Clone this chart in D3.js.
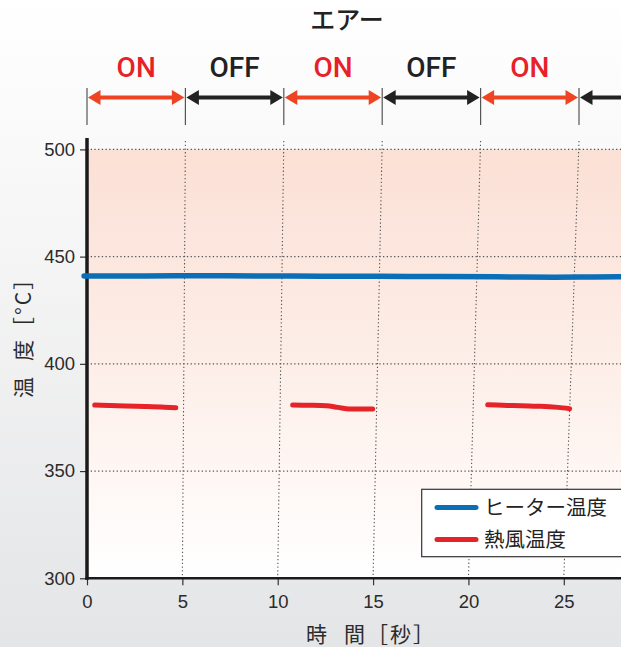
<!DOCTYPE html>
<html>
<head>
<meta charset="utf-8">
<script src="https://cdn.jsdelivr.net/npm/d3@7"></script>
<style>
  html, body { margin: 0; padding: 0; }
  body { width: 621px; height: 647px; overflow: hidden; }
</style>
</head>
<body>
<div id="chart"></div>
<script>
// data
var xTicks = [0, 5, 10, 15, 20, 25];
var yTicks = [300, 350, 400, 450, 500];

var airBounds = [0, 5, 10, 15, 20, 25, 30];
var airStates = ["ON", "OFF", "ON", "OFF", "ON", "OFF"];

var heaterTime = [0, 3, 6, 9, 12, 15, 18, 21, 24, 26, 28];
var heaterTemp = [441, 441, 441.1, 441, 440.9, 440.8, 440.7, 440.6, 440.4, 440.5, 440.7];

var airTime1 = [0.4, 1.2, 2, 3, 4, 4.6];
var airTemp1 = [380.8, 380.6, 380.3, 380.1, 379.8, 379.5];
var airTime2 = [10.65, 11.5, 12.4, 13.0, 13.6, 14.8];
var airTemp2 = [380.8, 380.7, 380.5, 379.7, 379.0, 379.0];
var airTime3 = [20.75, 21.8, 22.9, 23.5, 24.4, 25.0];
var airTemp3 = [380.9, 380.6, 380.3, 380.2, 379.7, 379.1];

var legendNames = ["ヒーター温度", "熱風温度"];
var legendColors = ["#0a6fb6", "#e52329"];

var svgWidth = 621, svgHeight = 647;

var svg = d3.select("#chart")
    .append("svg")
    .attr("width", svgWidth)
    .attr("height", svgHeight);

var defs = svg.append("defs");

// page background
var bg = defs.append("linearGradient").attr("id", "bg")
    .attr("x1", 0).attr("y1", 0).attr("x2", 0).attr("y2", 1);
bg.append("stop").attr("offset", "0").attr("stop-color", "#ffffff");
bg.append("stop").attr("offset", "0.35").attr("stop-color", "#f6f6f6");
bg.append("stop").attr("offset", "1").attr("stop-color", "#e4e5e7");

var plotFill = defs.append("linearGradient").attr("id", "plotFill")
    .attr("x1", 0).attr("y1", 0).attr("x2", 0).attr("y2", 1);
plotFill.append("stop").attr("offset", "0").attr("stop-color", "#fbe0d5");
plotFill.append("stop").attr("offset", "0.5").attr("stop-color", "#fdeee8");
plotFill.append("stop").attr("offset", "1").attr("stop-color", "#ffffff");

svg.append("rect")
    .attr("width", svgWidth).attr("height", svgHeight)
    .attr("fill", "url(#bg)");

// scales (the picture is a little skewed: wider at top than at bottom)
var plotLeft = 87, plotTop = 138, plotBottom = 578.3;

var y = d3.scaleLinear().domain([300, 500]).range([plotBottom, 149.4]);
var xBot = d3.scaleLinear().domain([0, 28]).range([plotLeft, 621]);
var xTop = d3.scaleLinear().domain([0, 28]).range([plotLeft, plotLeft + 28 * 19.68]);

function xAt(t, py) {
    var f = (py - plotTop) / (plotBottom - plotTop);
    return xTop(t) + (xBot(t) - xTop(t)) * f;
}

// plot area fill
svg.append("rect")
    .attr("x", plotLeft).attr("y", y(500))
    .attr("width", svgWidth - plotLeft)
    .attr("height", y(300) - y(500))
    .attr("fill", "url(#plotFill)");

// grid
svg.append("g").selectAll("line")
    .data(yTicks.slice(1))
    .enter()
    .append("line")
    .attr("x1", plotLeft).attr("x2", svgWidth)
    .attr("y1", d => y(d)).attr("y2", d => y(d))
    .attr("stroke", "#555")
    .attr("stroke-width", 1.1)
    .attr("stroke-dasharray", "1.3,2.4");

svg.append("g").selectAll("line")
    .data(xTicks.slice(1))
    .enter()
    .append("line")
    .attr("x1", d => xTop(d)).attr("y1", plotTop + 3)
    .attr("x2", d => xBot(d)).attr("y2", plotBottom)
    .attr("stroke", "#555")
    .attr("stroke-width", 1.1)
    .attr("stroke-dasharray", "1.3,2.4");

// axes
var yAxis = d3.axisLeft(y).tickValues(yTicks).tickSize(7).tickPadding(5);
var xAxis = d3.axisBottom(xBot).tickValues(xTicks).tickSize(7).tickPadding(6);

var gy = svg.append("g")
    .attr("transform", `translate(${plotLeft}, 0)`)
    .call(yAxis);
var gx = svg.append("g")
    .attr("transform", `translate(0, ${plotBottom})`)
    .call(xAxis);

[gx, gy].forEach(function(g) {
    g.select(".domain").remove();
    g.selectAll(".tick line").attr("stroke", "#333").attr("stroke-width", 1.2);
    g.selectAll(".tick text")
        .attr("fill", "#2b2b2b")
        .attr("font-family", "'Liberation Sans', Arial, sans-serif")
        .attr("font-size", "18.5px");
});
gx.selectAll(".tick text").attr("dy", "0.9em");

svg.append("line")
    .attr("x1", plotLeft).attr("x2", plotLeft)
    .attr("y1", plotTop).attr("y2", plotBottom + 1.5)
    .attr("stroke", "#1a1a1a").attr("stroke-width", 3.5);
svg.append("line")
    .attr("x1", plotLeft - 1.7).attr("x2", svgWidth)
    .attr("y1", plotBottom).attr("y2", plotBottom)
    .attr("stroke", "#1a1a1a").attr("stroke-width", 2.6);

// data lines
var line = d3.line()
    .x(d => xAt(d[0], y(d[1])))
    .y(d => y(d[1]))
    .curve(d3.curveMonotoneX);

svg.append("path")
    .datum(d3.zip([-0.15].concat(heaterTime.slice(1)), heaterTemp))
    .attr("d", line)
    .attr("fill", "none")
    .attr("stroke", legendColors[0])
    .attr("stroke-width", 5.5)
    .attr("stroke-linecap", "round");

[[airTime1, airTemp1], [airTime2, airTemp2], [airTime3, airTemp3]].forEach(function(s) {
    svg.append("path")
        .datum(d3.zip(s[0], s[1]))
        .attr("d", line)
        .attr("fill", "none")
        .attr("stroke", legendColors[1])
        .attr("stroke-width", 5)
        .attr("stroke-linecap", "round");
});

// air on/off band
var arrowY = 97.5;
var segs = d3.range(airStates.length).map(i => ({
    state: airStates[i], t0: airBounds[i], t1: airBounds[i + 1]
}));
var airColor = s => s === "ON" ? "#ef4423" : "#222";
var labelColor = s => s === "ON" ? "#e8202a" : "#222";

svg.append("g").selectAll("line")
    .data(airBounds.filter(d => d <= 28))
    .enter()
    .append("line")
    .attr("x1", d => xTop(d)).attr("x2", d => xTop(d))
    .attr("y1", 88).attr("y2", 125)
    .attr("stroke", "#555").attr("stroke-width", 1.2);

var headL = 12.5, headH = 7.5;
segs.forEach(function(s) {
    var a = xTop(s.t0) + 1, b = xTop(s.t1) - 1;
    var c = airColor(s.state);
    svg.append("line")
        .attr("x1", a + headL - 1).attr("x2", b - headL + 1)
        .attr("y1", arrowY).attr("y2", arrowY)
        .attr("stroke", c).attr("stroke-width", 4);
    svg.append("path")
        .attr("d", `M${a},${arrowY} L${a + headL},${arrowY - headH} L${a + headL},${arrowY + headH} Z`)
        .attr("fill", c);
    svg.append("path")
        .attr("d", `M${b},${arrowY} L${b - headL},${arrowY - headH} L${b - headL},${arrowY + headH} Z`)
        .attr("fill", c);
    // only label the segments that end inside the chart
    if (s.t1 <= 28) {
        svg.append("text")
            .attr("x", xTop((s.t0 + s.t1) / 2)).attr("y", 77)
            .attr("text-anchor", "middle")
            .attr("font-family", "Roboto, 'Liberation Sans', sans-serif")
            .attr("font-weight", 500)
            .attr("font-size", "28px")
            .attr("fill", labelColor(s.state))
            .text(s.state);
    }
});

svg.append("text")
    .attr("x", 347).attr("y", 29)
    .attr("text-anchor", "middle")
    .attr("font-family", "'Noto Sans CJK JP', sans-serif")
    .attr("font-weight", 500)
    .attr("font-size", "25px")
    .attr("fill", "#222")
    .text("エアー");

// axis titles
var xt = svg.append("text")
    .attr("x", 306).attr("y", 642)
    .attr("font-family", "'Noto Sans CJK JP', sans-serif")
    .attr("font-size", "21px")
    .attr("fill", "#2b2b2b")
    .attr("letter-spacing", "2px");
xt.append("tspan").text("時");
xt.append("tspan").attr("dx", 15).text("間［秒］");

var yt = svg.append("text")
    .attr("transform", "translate(31, 398) rotate(-90)")
    .attr("font-family", "'Noto Sans CJK JP', sans-serif")
    .attr("font-size", "21px")
    .attr("fill", "#2b2b2b")
    .attr("letter-spacing", "2px");
yt.append("tspan").text("温");
yt.append("tspan").attr("dx", 14).text("度［°C］");

// legend
var legend = svg.append("g");
legend.append("rect")
    .attr("x", 421.7).attr("y", 489.3)
    .attr("width", 205).attr("height", 67.4)
    .attr("fill", "#fff")
    .attr("stroke", "#333").attr("stroke-width", 1.2);

legendNames.forEach(function(name, i) {
    var ly = 507.5 + i * 32;
    legend.append("line")
        .attr("x1", 437).attr("x2", 476)
        .attr("y1", ly).attr("y2", ly)
        .attr("stroke", legendColors[i])
        .attr("stroke-width", 5)
        .attr("stroke-linecap", "round");
    legend.append("text")
        .attr("x", 484).attr("y", ly + 7.5)
        .attr("font-family", "'Noto Sans CJK JP', sans-serif")
        .attr("font-size", "20.5px")
        .attr("fill", "#222")
        .text(name);
});
</script>
</body>
</html>
